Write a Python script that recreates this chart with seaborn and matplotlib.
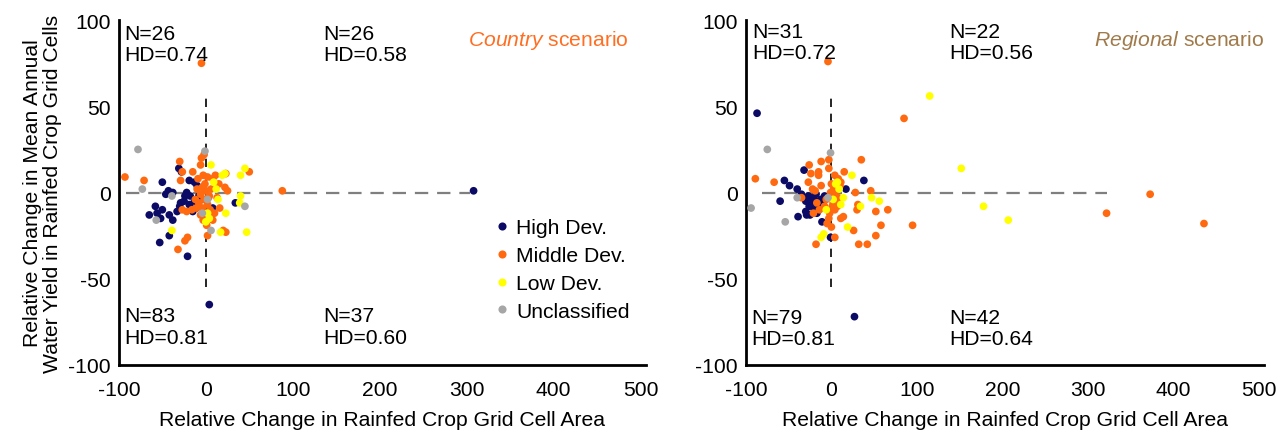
import matplotlib
matplotlib.use("Agg")
import numpy as np
import pandas as pd
import seaborn as sns
import matplotlib.pyplot as plt

CATEGORIES = ['High Dev.', 'Middle Dev.', 'Low Dev.', 'Unclassified']
PALETTE = {'High Dev.': '#0B0B66', 'Middle Dev.': '#FF6A10',
           'Low Dev.': '#FFFF00', 'Unclassified': '#A6A6A6'}

# ---- Country scenario (left panel): (area change, water-yield change)
country_high = [(-31, 14), (-28, 12), (-50, 6), (-43, 1), (-38, 0), (-46, -1), (-19, 7),
                (-13, 6), (-10, 4), (-22, 0), (-18, -2), (-25, -5), (-29, -6), (-19, -7),
                (-13, -5), (-8, -2), (-11, -9), (-15, -11), (-58, -8), (-50, -10), (-65, -13),
                (-56, -12), (-52, -15), (-42, -13), (-38, -16), (-33, -11), (-42, -25),
                (-53, -29), (-21, -37), (4, -65), (8, -9), (6, -12), (34, -6), (308, 1),
                (-5, -4), (-3, -13), (-24, -2), (-30, -8)]
country_middle = [(-93, 9), (-71, 7), (-30, 18), (-27, 12), (-29, 7), (-5, 20), (-2, 22),
                  (-6, 16), (-15, 12), (-3, 10), (2, 9), (8, 8), (11, 10), (15, 5), (22, 3),
                  (25, 1), (23, 11), (50, 12), (-4, 3), (0, 1), (-6, -1), (4, -2), (-2, -4),
                  (-8, -6), (2, -7), (-4, -9), (5, -10), (-1, -12), (-6, -13), (-10, 2),
                  (-12, -4), (-27, -10), (-22, -11), (-16, -10), (-11, -9), (16, -9), (10, -12),
                  (8, -16), (20, -22), (23, -23), (2, -25), (-21, -26), (-24, -28), (-32, -33),
                  (88, 1), (-5, 75), (3, -3), (-1, 5), (6, 2), (-9, 8), (13, -3), (-3, -16),
                  (1, -19)]
country_low = [(6, 16), (19, 10), (22, 11), (12, 2), (45, 14), (40, 10), (40, -2), (39, -6),
               (23, -12), (2, -12), (0, -17), (4, -15), (-39, -22), (17, -23), (47, -23),
               (9, 6), (14, -4)]
country_uncl = [(-78, 25), (-1, 24), (-73, 2), (-39, -2), (2, -4), (-4, -12), (45, -8),
                (-57, -16), (6, -22)]

# ---- Regional scenario (right panel)
regional_high = [(-87, 46), (27, -72), (-55, 7), (-49, 4), (-40, 2), (-60, -5), (-39, -14),
                 (-32, 13), (38, 7), (17, 2), (-11, -17), (-1, -26), (-29, -13), (-27, -2),
                 (-24, -3), (-20, -4), (-18, -1), (-22, -6), (-26, -8), (-16, -6), (-14, -9),
                 (-20, -10), (-30, -5), (-12, -4), (-8, -2), (-10, -7), (-17, -12), (-25, -13),
                 (-35, -1), (-30, -11)]
regional_middle = [(-4, 76), (85, 43), (373, -1), (322, -12), (436, -18), (-89, 8), (-67, 6),
                   (-26, 16), (-12, 18), (-3, 19), (-15, 12), (-15, 10), (-24, 11), (-3, 14),
                   (35, 19), (15, 12), (4, 10), (8, 8), (11, 6), (-12, 4), (-19, 1), (28, 0),
                   (46, 1), (52, -11), (66, -10), (58, -19), (52, -25), (42, -30), (32, -30),
                   (26, -22), (30, -10), (31, -7), (14, -14), (11, -15), (95, -19), (4, -26),
                   (-18, -30), (-27, 6), (-35, -3), (-22, 2), (-21, -12), (-14, -10), (-5, -18),
                   (0, 5), (3, 3), (6, 1), (2, -2), (5, -5), (8, -3), (1, -8), (4, -10),
                   (-2, -12), (3, 2), (7, -8), (-1, 0), (-6, -4), (-3, -15), (0, -20), (2, -6),
                   (10, 4), (-8, -8), (-17, -6)]
regional_low = [(115, 56), (152, 14), (178, -8), (207, -16), (24, 10), (7, 6), (5, 5), (9, 2),
                (11, -7), (14, -3), (47, -3), (56, -5), (34, -8), (19, -20), (-9, -24),
                (-12, -26), (-6, -10), (2, -4)]
regional_uncl = [(-75, 25), (-1, 23), (-94, -9), (-40, -3), (-54, -17), (-4, -3)]

country_quads = ['N=26\nHD=0.74', 'N=26\nHD=0.58', 'N=83\nHD=0.81', 'N=37\nHD=0.60']
regional_quads = ['N=31\nHD=0.72', 'N=22\nHD=0.56', 'N=79\nHD=0.81', 'N=42\nHD=0.64']

X_TICKS = [-100, 0, 100, 200, 300, 400, 500]
Y_TICKS = [-100, -50, 0, 50, 100]
FS = 15.2


def build_frame(groups):
    rows = []
    for cat, pts in zip(CATEGORIES, groups):
        for x, y in pts:
            rows.append({'area': x, 'yield': y, 'Category': cat})
    return pd.DataFrame(rows)


df_country = build_frame([country_high, country_middle, country_low, country_uncl])
df_regional = build_frame([regional_high, regional_middle, regional_low, regional_uncl])

sns.set_theme(style="white")
plt.rcParams['font.family'] = ['Liberation Sans', 'DejaVu Sans']
plt.rcParams['axes.unicode_minus'] = False
plt.rcParams['text.color'] = 'black'
plt.rcParams['axes.labelcolor'] = 'black'
plt.rcParams['xtick.labelcolor'] = 'black'
plt.rcParams['ytick.labelcolor'] = 'black'
plt.rcParams['mathtext.fontset'] = 'custom'
plt.rcParams['mathtext.rm'] = 'Liberation Sans'
plt.rcParams['mathtext.it'] = 'Liberation Sans:italic'

fig = plt.figure(figsize=(12.85, 4.31), dpi=100)
ax1 = fig.add_axes([0.0925, 0.151, 0.410, 0.800])
ax2 = fig.add_axes([0.5805, 0.151, 0.403, 0.800])


def draw_panel(ax, df, quads, quad_pos, hline_end, title, title_color, show_legend):
    ax.vlines(0, -55, 55, colors='black', linestyles=(0, (5, 4)), linewidth=1.2, zorder=1)
    ax.hlines(0, hline_end[0], hline_end[1], colors='#7F7F7F', linestyles=(0, (6, 4)),
              linewidth=1.6, zorder=1)
    sns.scatterplot(data=df, x='area', y='yield', hue='Category', hue_order=CATEGORIES,
                    palette=PALETTE, s=31, linewidth=0, ax=ax, legend=show_legend, zorder=3)
    ax.set_xlim(-100, 506)
    ax.set_ylim(-100, 100)
    ax.set_xticks(X_TICKS)
    ax.set_yticks(Y_TICKS)
    ax.tick_params(labelsize=FS, length=3, width=1, color='#A0A0A0', labelcolor='black')
    ax.tick_params(axis='x', pad=8)
    ax.tick_params(axis='y', pad=3)
    for side in ['top', 'right']:
        ax.spines[side].set_visible(False)
    for side in ['left', 'bottom']:
        ax.spines[side].set_color('black')
        ax.spines[side].set_linewidth(2)
    ax.set_xlabel('Relative Change in Rainfed Crop Grid Cell Area', fontsize=FS, labelpad=8,
                  color='black')
    for txt, (qx, qy) in zip(quads, quad_pos):
        ax.text(qx, qy, txt, fontsize=FS, va='top', ha='left', linespacing=1.15, color='black')
    ax.text(title[1], 89, title[0], fontsize=FS, color=title_color, ha='left', va='center')
    if show_legend:
        handles, labels = ax.get_legend_handles_labels()
        leg = ax.legend(handles, labels, loc='upper left', bbox_to_anchor=(0.70, 0.45),
                        frameon=False, fontsize=FS, handlelength=0.6, handletextpad=0.35,
                        borderaxespad=0, labelspacing=0.42, markerscale=1.05)
        for t in leg.get_texts():
            t.set_color('black')


draw_panel(ax1, df_country, country_quads,
           [(-94, 98), (135, 98), (-94, -66), (135, -66)], (-92, 304),
           (r'$\mathit{Country}$ scenario', 302), '#FF6E21', True)
ax1.set_ylabel('Relative Change in Mean Annual\nWater Yield in Rainfed Crop Grid Cells',
               fontsize=FS, labelpad=4, linespacing=1.1, color='black')

draw_panel(ax2, df_regional, regional_quads,
           [(-93, 99), (138, 99), (-94, -67), (138, -67)], (-81, 323),
           (r'$\mathit{Regional}$ scenario', 307), '#A07A4A', False)
ax2.set_ylabel('')

fig.savefig('out.png', dpi=100)
